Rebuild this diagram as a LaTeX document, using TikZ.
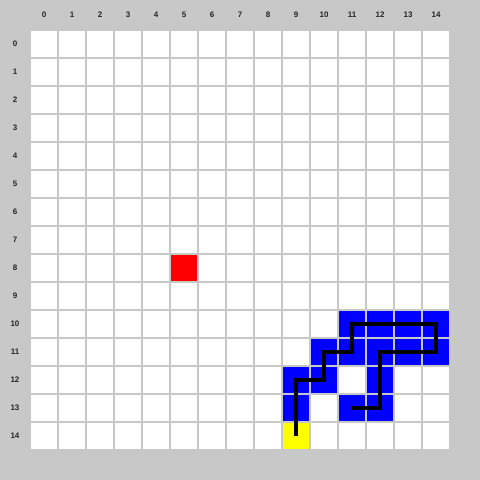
\documentclass[tikz,border=0pt]{standalone}
\usepackage{fontspec}
\setmainfont{Liberation Sans}
\definecolor{bggray}{RGB}{200,200,200}
\definecolor{snakeblue}{RGB}{0,0,255}
\definecolor{headyellow}{RGB}{255,255,0}
\definecolor{foodred}{RGB}{255,0,0}
\tikzset{
  lbl/.style={font=\bfseries\fontsize{8}{9}\selectfont, text=black!85, inner sep=0pt},
  pathline/.style={draw=black, line width=4pt, line join=miter, line cap=butt},
}
\newcommand{\gcell}[3]{\fill[#3] ({30+28*#1+1},{30+28*#2+1}) rectangle ++(26,26);}
\begin{document}
\begin{tikzpicture}[x=1pt,y=-1pt]
\fill[bggray] (0,0) rectangle (480,480);
\useasboundingbox (0,0) rectangle (480,480);
\foreach \c in {0,...,14}{
  \foreach \r in {0,...,14}{
    \gcell{\c}{\r}{white}
  }
  \node[lbl] (col\c) at ({44+28*\c},15) {\c};
  \node[lbl] (row\c) at (15,{44+28*\c}) {\c};
}
% snake body
\foreach \c/\r in {11/10,12/10,13/10,14/10,10/11,11/11,12/11,13/11,14/11,9/12,10/12,12/12,9/13,11/13,12/13}{
  \gcell{\c}{\r}{snakeblue}
}
\gcell{9}{14}{headyellow}
\gcell{5}{8}{foodred}
% path through cell centres
\coordinate (p0) at (296,436);
\coordinate (p1) at (296,380);
\coordinate (p2) at (324,380);
\coordinate (p3) at (324,352);
\coordinate (p4) at (352,352);
\coordinate (p5) at (352,324);
\coordinate (p6) at (436,324);
\coordinate (p7) at (436,352);
\coordinate (p8) at (380,352);
\coordinate (p9) at (380,408);
\coordinate (p10) at (352,408);
\draw[pathline] (p0) -- (p1) -- (p2) -- (p3) -- (p4) -- (p5) -- (p6) -- (p7) -- (p8) -- (p9) -- (p10);
\end{tikzpicture}
\end{document}
